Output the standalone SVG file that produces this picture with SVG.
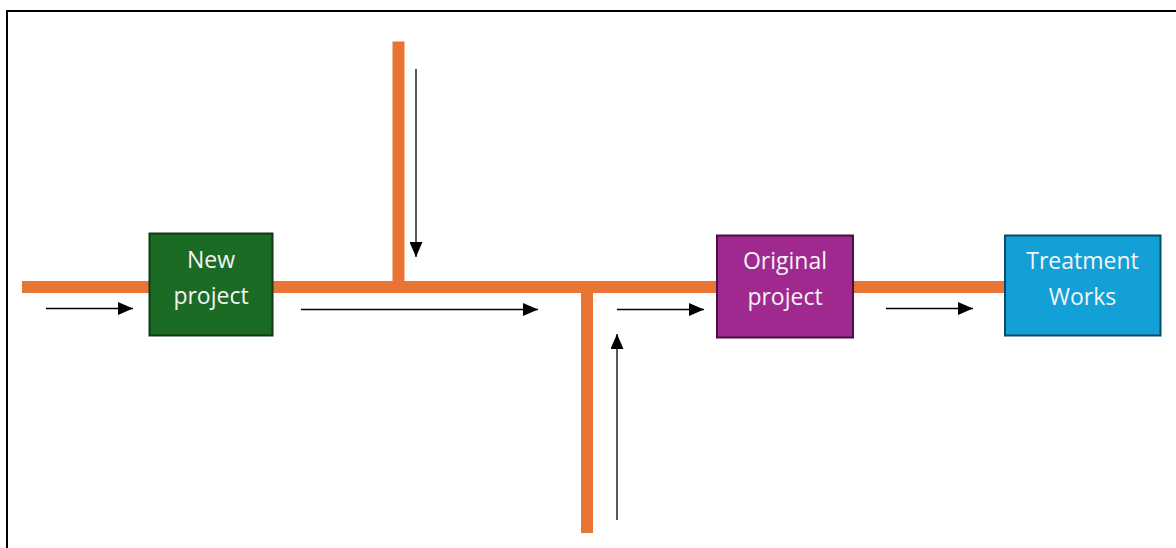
<svg xmlns="http://www.w3.org/2000/svg" width="1176" height="548" viewBox="0 0 1176 548">
  <defs>
    <marker id="arrow" markerWidth="15" markerHeight="13" refX="15" refY="6.5" orient="auto" markerUnits="userSpaceOnUse">
      <path d="M0,0 L15,6.5 L0,13 Z" fill="#000"/>
    </marker>
    <style>
      .pipe { stroke: #ea7434; stroke-width: 12; fill: none; }
      .flow { stroke: #000; stroke-width: 1.3; fill: none; marker-end: url(#arrow); }
      .label { font-family: "Open Sans", "Liberation Sans", sans-serif; font-size: 23px; fill: #f4f4f4; text-anchor: middle; }
      .box { stroke-width: 2; }
    </style>
  </defs>

  <rect width="1176" height="548" fill="#fff"/>
  <!-- frame -->
  <path d="M7,560 L7,11 L1190,11" fill="none" stroke="#000" stroke-width="2"/>

  <!-- sewer pipes -->
  <g id="pipes">
    <line class="pipe" x1="22" y1="287" x2="1006" y2="287"/>
    <line class="pipe" x1="398.5" y1="41.5" x2="398.5" y2="287"/>
    <line class="pipe" x1="587" y1="287" x2="587" y2="533"/>
  </g>

  <!-- flow direction arrows -->
  <g id="connectors">
    <line class="flow" x1="46" y1="308.5" x2="133" y2="308.5"/>
    <line class="flow" x1="301" y1="309.5" x2="538" y2="309.5"/>
    <line class="flow" x1="416" y1="69" x2="416" y2="257"/>
    <line class="flow" x1="617" y1="309.5" x2="704" y2="309.5"/>
    <line class="flow" x1="617" y1="520" x2="617" y2="334"/>
    <line class="flow" x1="886" y1="308.5" x2="973" y2="308.5"/>
  </g>

  <g id="new-project">
    <rect class="box" x="149.5" y="233.5" width="123" height="102" fill="#1c6b24" stroke="#0f3a13"/>
    <text class="label" x="211" y="268">New</text>
    <text class="label" x="211" y="303.5">project</text>
  </g>

  <g id="original-project">
    <rect class="box" x="717" y="235.5" width="136" height="102" fill="#a0298f" stroke="#4a0f42"/>
    <text class="label" x="785" y="269">Original</text>
    <text class="label" x="785" y="305">project</text>
  </g>

  <g id="treatment-works">
    <rect class="box" x="1005" y="235.5" width="155.5" height="100" fill="#12a0d7" stroke="#0b4a66"/>
    <text class="label" x="1082.5" y="269">Treatment</text>
    <text class="label" x="1082.5" y="305">Works</text>
  </g>
</svg>
